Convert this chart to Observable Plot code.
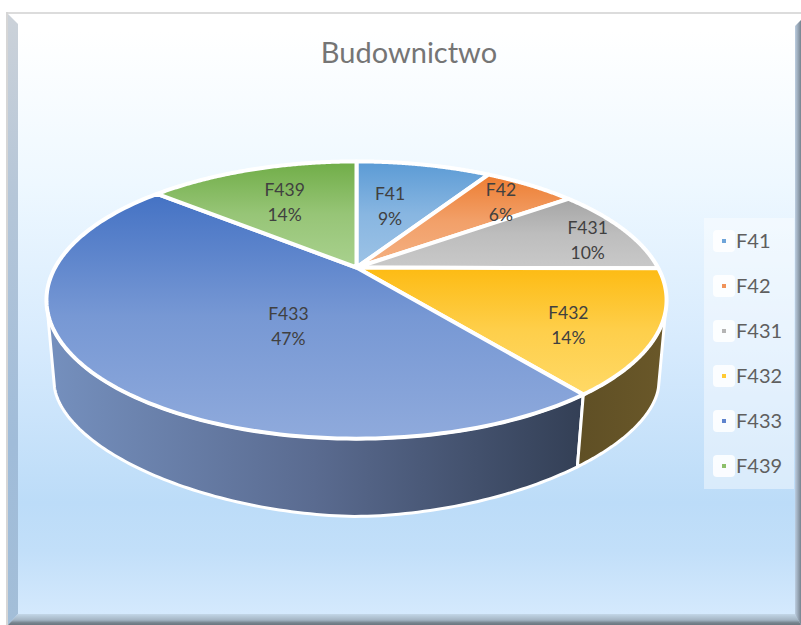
<!DOCTYPE html>
<html>
<head>
<meta charset="utf-8">
<script src="https://cdn.jsdelivr.net/npm/d3@7"></script>
<script src="https://cdn.jsdelivr.net/npm/@observablehq/plot@0.6"></script>
<style>
html,body{margin:0;padding:0;background:#fff;}
#page{position:relative;width:801px;height:625px;overflow:hidden;font-family:Lato,sans-serif;}
#bg{position:absolute;left:7px;top:13px;width:794px;height:612px;
 background:linear-gradient(180deg,#fff 0%,#fff 3%,#eef8ff 28%,#d6eafd 55%,#bcdcf8 80%,#c2dff9 88%,#d4e9fd 98%);}
#topline{position:absolute;left:6px;top:12px;width:795px;height:2px;background:#dcdcdc;}
#leftline{position:absolute;left:6px;top:12px;width:2px;height:613px;background:#d6d6d6;}
.bevel{position:absolute;}
#bl{left:8px;top:14px;width:10px;height:611px;clip-path:polygon(0 0,100% 10px,100% 600px,0 100%);
 background:linear-gradient(180deg,#ccd2d9 0%,#b5c6d8 30%,#a0bcd9 70%,#a3bed8 100%);}
#br{left:795px;top:20px;width:6px;height:605px;clip-path:polygon(100% 0,0 6px,0 595px,100% 100%);
 background:linear-gradient(90deg,#bccde0,#76838f);}
#bb{left:8px;top:614px;width:793px;height:11px;clip-path:polygon(10px 0,787px 0,100% 100%,0 100%);
 background:linear-gradient(180deg,#c3d7e8,#a3b4c3 55%,#76838d 80%,#6b7780);}
#title{position:absolute;left:0;width:818px;top:33px;text-align:center;font-size:29px;color:#757575;line-height:38px;}
#legend{position:absolute;left:704px;top:218px;width:90px;height:271px;background:rgba(255,255,255,.42);}
.lg{position:absolute;left:9px;width:80px;height:22px;}
.sw{position:absolute;left:0;top:0;width:22px;height:22px;border-radius:4px;background:rgba(255,255,255,.85);}
.dot{position:absolute;left:9px;top:9px;width:4px;height:4px;}
.tx{position:absolute;left:23px;top:-4px;font-size:20px;line-height:28px;color:#5f5f5f;}
#chart{position:absolute;left:0;top:0;}
#chart svg{display:block;background:transparent;}
</style>
</head>
<body>
<div id="page">
 <div id="bg"></div><div id="topline"></div><div id="leftline"></div>
 <div class="bevel" id="bl"></div><div class="bevel" id="br"></div><div class="bevel" id="bb"></div>
 <div id="title">Budownictwo</div>
 <div id="chart"></div>
 <div id="legend"></div>
</div>
<script>
const categories = ["F41","F42","F431","F432","F433","F439"];
const shares = [8.8, 6.0, 10.3, 14.4, 46.7, 13.8];
const swatch = ["#6fa5d9","#f0935a","#b5b5b5","#ffca33","#5f84cd","#8cbf6a"];
const gradTop = ["#5b9bd5","#ed7d31","#a5a5a5","#fdbb13","#4472c4","#70ad47"];
const gradBottom = ["#9dc3e6","#f4b183","#c9c9c9","#ffd966","#8faadc","#a9d18e"];
const labelRadius = [0.6, 0.79, 0.85, 0.75, 0.4, 0.75];
const labelDx = [-10, 3, 2, -8, 25, 10];
const labelDy = [4, 0, 4, 9, 18, 10];

// perspective view of a tilted disc
const k = 0.2347;
function project(theta, t = 1) {
  const u = t * Math.sin(theta), v = -t * Math.cos(theta), w = 1 - k * v;
  return {x: u / w, y: v / w};
}
// outline of the underside of the disc, seen below the front half of the rim
const depth = {sx: 0.974, rx: 1.003, y0: 0.885, ry: 1.015, p: 1.8};
const lower = p => {
  const x = p.x * depth.sx;
  const t = Math.min(1, Math.abs(x) / depth.rx);
  return {x, y: depth.y0 + depth.ry * Math.pow(1 - Math.pow(t, depth.p), 1 / depth.p)};
};
// the rim is visible between its two x extremes
const rimStart = Math.acos(-k), rimEnd = 2 * Math.PI - rimStart;

const total = d3.sum(shares);
let acc = 0;
const slices = categories.map((name, i) => {
  const a0 = acc / total * 2 * Math.PI; acc += shares[i];
  const a1 = acc / total * 2 * Math.PI;
  return {name, i, a0, a1, mid: (a0 + a1) / 2, share: shares[i]};
});
const arc = (a0, a1) => d3.range(0, 121).map(j => project(a0 + (a1 - a0) * j / 120));
const face = s => [{x: 0, y: 0}, ...arc(s.a0, s.a1), {x: 0, y: 0}];
const wall = s => {
  const top = arc(Math.max(s.a0, rimStart), Math.min(s.a1, rimEnd));
  return [...top, ...top.slice().reverse().map(lower), top[0]];
};

const defs = () => {
  const el = d3.create("svg:defs");
  slices.forEach(s => {
    const g = el.append("linearGradient").attr("id", "face" + s.i)
      .attr("x1", 0).attr("y1", 0).attr("x2", 0).attr("y2", 1);
    g.append("stop").attr("offset", 0).attr("stop-color", gradTop[s.i]);
    g.append("stop").attr("offset", 0.5).attr("stop-color", d3.interpolateRgb(gradTop[s.i], gradBottom[s.i])(0.68));
    g.append("stop").attr("offset", 1).attr("stop-color", gradBottom[s.i]);
  });
  const w4 = el.append("linearGradient").attr("id", "wall4");
  w4.append("stop").attr("offset", 0).attr("stop-color", "#7590be");
  w4.append("stop").attr("offset", 0.5).attr("stop-color", "#5a6b90");
  w4.append("stop").attr("offset", 1).attr("stop-color", "#333f55");
  const w3 = el.append("linearGradient").attr("id", "wall3");
  w3.append("stop").attr("offset", 0).attr("stop-color", "#5f4f25");
  w3.append("stop").attr("offset", 1).attr("stop-color", "#6a5829");
  return el.node();
};

const line = (pts, fill, sw) => Plot.line(pts, {x: "x", y: "y", fill, stroke: "#fff", strokeWidth: sw, strokeLinejoin: "round", curve: "linear"});

const marks = [
  defs,
  line(wall(slices[4]), "url(#wall4)", 3),
  line(wall(slices[3]), "url(#wall3)", 3),
  ...slices.map(s => line(face(s), `url(#face${s.i})`, 4)),
  ...slices.map(s => Plot.text([s], {
    x: d => project(d.mid, labelRadius[d.i]).x,
    y: d => project(d.mid, labelRadius[d.i]).y,
    text: d => `${d.name}\n${Math.round(d.share)}%`,
    dx: labelDx[s.i], dy: labelDy[s.i],
    fill: "#404040", fontSize: 17.5, lineHeight: 1.42, fontFamily: "Lato, sans-serif"
  }))
];

const plot = Plot.plot({
  width: 801, height: 625, margin: 0,
  style: {background: "transparent"},
  x: {axis: null, domain: [-1, 1], range: [54.6, 657.4]},
  y: {axis: null, domain: [-1, 1], range: [136, 398]},
  marks
});
document.getElementById("chart").append(plot);

const legend = d3.select("#legend");
categories.forEach((c, i) => {
  const row = legend.append("div").attr("class", "lg").style("top", (12 + i * 45) + "px");
  row.append("div").attr("class", "sw");
  row.append("div").attr("class", "dot").style("background", swatch[i]);
  row.append("div").attr("class", "tx").text(c);
});
</script>
</body>
</html>
